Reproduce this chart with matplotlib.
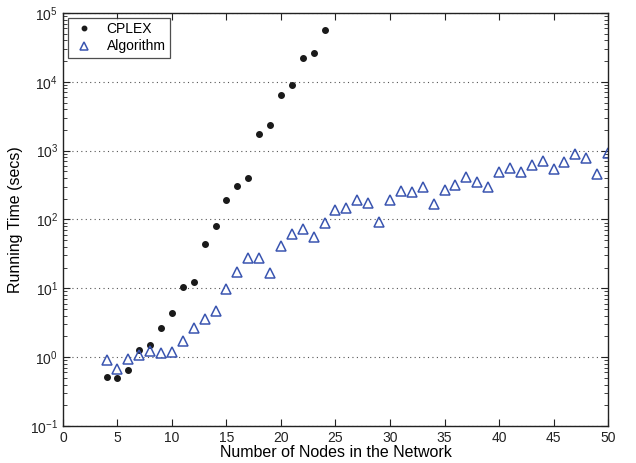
import matplotlib
matplotlib.use("Agg")
import matplotlib.pyplot as plt
from matplotlib.ticker import LogLocator, FixedLocator, NullFormatter

plt.rcParams['font.family'] = ['Liberation Sans', 'DejaVu Sans']
plt.rcParams['mathtext.fontset'] = 'custom'
plt.rcParams['mathtext.rm'] = 'Liberation Sans'

# Running time of the exact solver (CPLEX) per network size
cplex_nodes = list(range(4, 25))
cplex_time = [0.51, 0.49, 0.64, 1.25, 1.50, 2.62, 4.36, 10.5, 12.2, 44.6,
              79.5, 190, 306, 400, 1770, 2330, 6380, 9080, 22000, 25800, 57300]

# Running time of the proposed algorithm per network size
algo_nodes = list(range(4, 51))
algo_time = [0.90, 0.68, 0.95, 1.09, 1.22, 1.14, 1.18, 1.72, 2.62, 3.62,
             4.72, 9.8, 17.0, 27.5, 27.5, 16.7, 41.3, 61.5, 72.7, 55.7,
             87.9, 138, 145, 192, 173, 92.7, 189, 263, 251, 298,
             167, 272, 313, 419, 354, 297, 494, 565, 494, 610,
             713, 546, 689, 887, 769, 456, 929]

x_ticks = [0, 5, 10, 15, 20, 25, 30, 35, 40, 45, 50]

fig = plt.figure(figsize=(6.36, 4.63), dpi=100)
ax = fig.add_axes([0.099, 0.080, 0.857, 0.892])

ax.plot(cplex_nodes, cplex_time, linestyle='none', marker='o', markersize=4,
        color='#1a1a1a', label='CPLEX')
ax.plot(algo_nodes, algo_time, linestyle='none', marker='^', markersize=7,
        markerfacecolor='none', markeredgecolor='#3a55b0', markeredgewidth=1.1,
        label='Algorithm')

ax.set_yscale('log')
ax.set_xlim(0, 50)
ax.set_ylim(0.1, 1e5)
ax.xaxis.set_major_locator(FixedLocator(x_ticks))
ax.yaxis.set_major_locator(LogLocator(base=10, numticks=10))
ax.yaxis.set_minor_locator(LogLocator(base=10, subs=range(2, 10), numticks=10))
ax.yaxis.set_minor_formatter(NullFormatter())

ax.tick_params(axis='both', which='both', direction='in', top=True, right=True,
               labelsize=10, colors='#222222')
ax.tick_params(axis='both', which='major', length=5, width=0.8)
ax.tick_params(axis='y', which='minor', length=3, width=0.6)

ax.yaxis.grid(True, which='major', linestyle=(0, (1, 3)), color='#555555',
              linewidth=0.8)
ax.set_axisbelow(True)

for s in ax.spines.values():
    s.set_color('#222222')
    s.set_linewidth(1.0)

ax.set_xlabel('Number of Nodes in the Network', fontsize=11.5, labelpad=0)
ax.set_ylabel('Running Time (secs)', fontsize=11.5, labelpad=5)

leg = ax.legend(loc='upper left', fontsize=10, frameon=True, fancybox=False,
                edgecolor='#222222', borderaxespad=0.35, handletextpad=0.8,
                borderpad=0.3, labelspacing=0.25, handlelength=1.7,
                markerscale=0.8)
leg.get_frame().set_linewidth(0.9)

fig.savefig('out.png', dpi=100)
